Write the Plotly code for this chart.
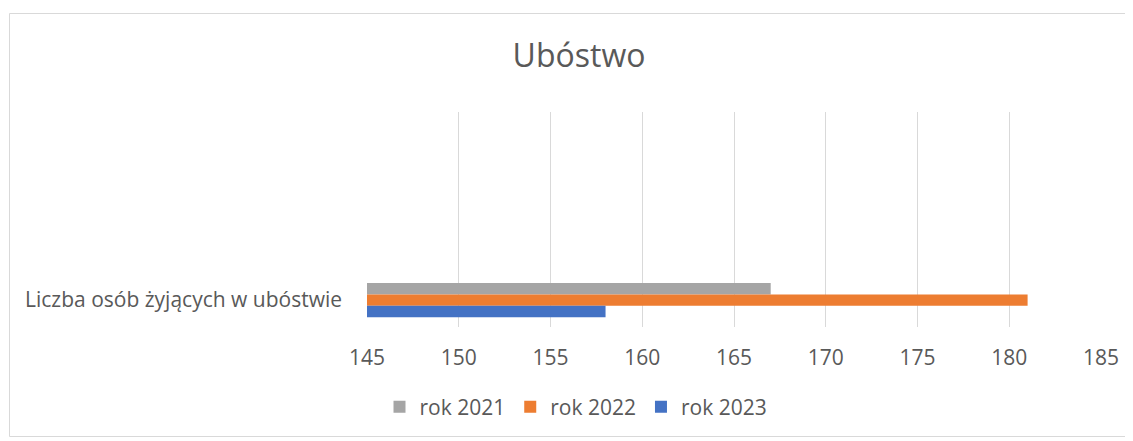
import plotly.graph_objects as go

categories = ["Liczba osób żyjących w ubóstwie"]
series_names = ["rok 2021", "rok 2022", "rok 2023"]
values_2021 = [167]
values_2022 = [181]
values_2023 = [158]
colors = ["#A5A5A5", "#ED7D31", "#4472C4"]
x_ticks = [145, 150, 155, 160, 165, 170, 175, 180, 185]

FONT = "Open Sans"
TXT = "#595959"
OFF = 8  # page body margin

fig = go.Figure()
for name, vals, col in zip(series_names, [values_2021, values_2022, values_2023], colors):
    fig.add_trace(go.Bar(
        y=categories, x=[v - 145 for v in vals], base=145, name=name,
        orientation="h", marker=dict(color=col, line=dict(width=0)),
    ))

W, H = 1133 - OFF, 441 - OFF
# plot area in window pixels
L, R, T, B = 367, 1101, 112, 327
l, r, t, b = L - OFF, R - OFF, T - OFF, B - OFF
fig.update_layout(
    width=W, height=H,
    margin=dict(l=l, r=W - r, t=t, b=H - b, pad=0),
    paper_bgcolor="white", plot_bgcolor="white",
    barmode="group", bargap=0.367, bargroupgap=0,
    title=dict(text="Ubóstwo", x=(579 - OFF) / W, xanchor="center", y=1 - (56 - OFF) / H,
               yanchor="middle", xref="container",
               font=dict(family=FONT, size=32, color=TXT)),
    font=dict(family=FONT, size=21, color=TXT),
    legend=dict(orientation="h", x=(576 - L) / (R - L), xanchor="center",
                y=-(407 - B) / (B - T), yanchor="middle",
                font=dict(family=FONT, size=21, color=TXT),
                traceorder="normal"),
    xaxis=dict(range=[145, 185], tickvals=x_ticks, showgrid=True, gridcolor="#D9D9D9",
               gridwidth=1, zeroline=False, showline=False, ticks="",
               ticklabelstandoff=16, tickfont=dict(family=FONT, size=21, color=TXT)),
    yaxis=dict(type="category", range=[0.5, -3.5], showgrid=False, zeroline=False,
               showline=False, ticks="", ticklabelstandoff=24,
               tickfont=dict(family=FONT, size=21, color=TXT)),
    shapes=[dict(type="rect", xref="paper", yref="paper",
                 x0=(9.5 - L) / (R - L), x1=(1140 - L) / (R - L),
                 y0=(B - 436.5) / (B - T), y1=(B - 13.5) / (B - T),
                 line=dict(color="#D9D9D9", width=1), fillcolor="rgba(0,0,0,0)", layer="below")],
)
fig.write_html("out.html")
